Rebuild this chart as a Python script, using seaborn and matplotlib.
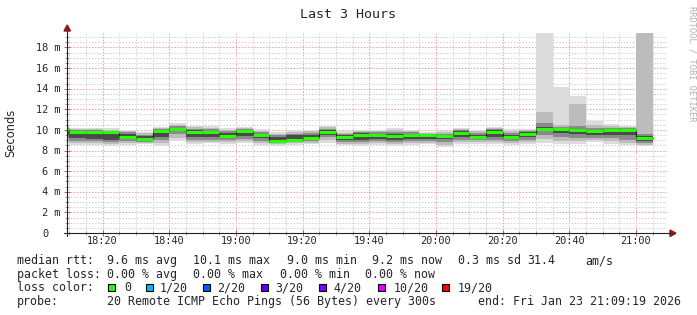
import matplotlib
matplotlib.use("Agg")
import matplotlib.pyplot as plt
from matplotlib.lines import Line2D
from matplotlib.patches import Rectangle, Polygon
from matplotlib.ticker import MultipleLocator, FixedLocator
import numpy as np
import pandas as pd
import seaborn as sns

sns.set_theme(style="white")
plt.rcParams["font.family"] = ["DejaVu Sans Mono", "DejaVu Sans"]
plt.rcParams["lines.scale_dashes"] = False

# ---------------- data ----------------
title = "Last 3 Hours"
y_label = "Seconds"
watermark = "RRDTOOL / TOBI OETIKER"
window_start = "18:09:19"
window_end = "21:09:19"
step_minutes = 5

interval_start = ["18:05", "18:10", "18:15", "18:20", "18:25", "18:30", "18:35", "18:40",
                  "18:45", "18:50", "18:55", "19:00", "19:05", "19:10", "19:15", "19:20",
                  "19:25", "19:30", "19:35", "19:40", "19:45", "19:50", "19:55", "20:00",
                  "20:05", "20:10", "20:15", "20:20", "20:25", "20:30", "20:35", "20:40",
                  "20:45", "20:50", "20:55", "21:00"]

median_ms = [10.05, 9.80, 9.80, 9.78, 9.32, 9.13, 9.85, 10.08, 9.80, 9.80, 9.45, 9.85,
             9.48, 8.96, 9.06, 9.20, 9.80, 9.35, 9.55, 9.51, 9.45, 9.50, 9.50, 9.45,
             9.74, 9.33, 9.82, 9.32, 9.64, 10.10, 10.05, 9.97, 9.87, 10.00, 9.97, 9.20]

# smoke bands (outer -> inner), lower and upper edges in ms
smoke_lo1 = [8.7, 8.5, 8.5, 8.4, 8.5, 8.6, 8.4, 8.9, 8.6, 8.7, 8.6, 8.7, 8.5, 8.45, 8.55, 8.6,
             8.7, 8.5, 8.4, 8.5, 8.45, 8.5, 8.6, 8.3, 8.6, 8.6, 8.65, 8.5, 8.6, 8.7, 8.6, 8.6,
             8.8, 8.65, 8.5, 8.4]
smoke_lo2 = [8.9, 8.7, 8.7, 8.6, 8.7, 8.7, 8.7, 9.2, 8.8, 8.85, 8.8, 8.9, 8.7, 8.6, 8.7, 8.75,
             9.0, 8.65, 8.6, 8.7, 8.65, 8.7, 8.75, 8.55, 8.8, 8.8, 8.85, 8.7, 8.8, 9.1, 8.9, 8.9,
             9.0, 8.9, 8.7, 8.55]
smoke_lo3 = [9.2, 8.9, 8.9, 8.8, 8.9, 8.85, 9.0, 9.6, 9.0, 9.0, 9.0, 9.1, 8.9, 8.75, 8.85, 8.9,
             9.3, 8.8, 8.8, 8.9, 8.85, 8.9, 8.9, 8.8, 9.0, 9.0, 9.05, 8.9, 9.0, 9.5, 9.3, 9.2,
             9.2, 9.2, 9.0, 8.75]
smoke_lo4 = [9.5, 9.2, 9.1, 9.0, 9.1, 9.0, 9.3, 9.85, 9.3, 9.3, 9.2, 9.4, 9.2, 8.85, 8.95, 9.05,
             9.5, 9.0, 9.0, 9.1, 9.05, 9.1, 9.1, 9.1, 9.3, 9.2, 9.3, 9.1, 9.3, 9.9, 9.7, 9.6,
             9.5, 9.5, 9.5, 8.95]
smoke_hi4 = [10.1, 9.9, 9.9, 9.8, 9.6, 9.4, 9.95, 10.2, 9.95, 9.9, 9.7, 9.95, 9.6, 9.3, 9.5, 9.55,
             9.95, 9.5, 9.7, 9.6, 9.65, 9.65, 9.55, 9.55, 9.85, 9.55, 9.95, 9.55, 9.75, 10.3, 10.15, 10.1,
             10.0, 10.1, 10.05, 9.4]
smoke_hi3 = [10.2, 10.0, 10.0, 9.9, 9.75, 9.55, 10.05, 10.35, 10.1, 10.05, 9.85, 10.05, 9.75, 9.5, 9.65, 9.7,
             10.1, 9.6, 9.8, 9.75, 9.8, 9.75, 9.65, 9.65, 9.95, 9.7, 10.05, 9.7, 9.85, 10.7, 10.3, 10.4,
             10.2, 10.2, 10.15, 9.6]
smoke_hi2 = [10.3, 10.1, 10.1, 10.0, 9.85, 9.7, 10.15, 10.5, 10.25, 10.2, 10.0, 10.15, 9.9, 9.6, 9.8, 9.85,
             10.25, 9.7, 9.9, 9.85, 9.95, 9.85, 9.7, 9.75, 10.05, 9.85, 10.15, 9.9, 9.95, 11.7, 10.45, 12.5,
             10.5, 10.35, 10.3, 19.5]
smoke_hi1 = [10.4, 10.2, 10.2, 10.15, 9.95, 9.8, 10.25, 10.7, 10.4, 10.35, 10.15, 10.3, 10.1, 9.75, 9.95, 9.95,
             10.4, 9.85, 10.0, 9.95, 10.15, 10.0, 9.8, 9.85, 10.15, 10.0, 10.25, 10.05, 10.05, 19.5, 14.2, 13.3,
             10.85, 10.55, 10.4, 19.5]

x_tick_times = ["18:20", "18:40", "19:00", "19:20", "19:40", "20:00", "20:20", "20:40", "21:00"]
y_tick_values = [0, 2, 4, 6, 8, 10, 12, 14, 16, 18]
y_tick_labels = ["0", "2 m", "4 m", "6 m", "8 m", "10 m", "12 m", "14 m", "16 m", "18 m"]
y_top = 19.4

rtt_label = "median rtt:"
rtt_stats = ["9.6 ms avg", "10.1 ms max", "9.0 ms min", "9.2 ms now", "0.3 ms sd", "31.4", "am/s"]
loss_label = "packet loss:"
loss_stats = ["0.00 % avg", "0.00 % max", "0.00 % min", "0.00 % now"]
color_label = "loss color:"
loss_levels = ["0", "1/20", "2/20", "3/20", "4/20", "10/20", "19/20"]
loss_colors = ["#26ff00", "#00b8ff", "#0059ff", "#5e00ff", "#7e00ff", "#dd00ff", "#ff0000"]
probe_label = "probe:"
probe_text = "20 Remote ICMP Echo Pings (56 Bytes) every 300s"
end_text = "end: Fri Jan 23 21:09:19 2026"


def to_min(s):
    parts = [int(p) for p in s.split(":")]
    while len(parts) < 3:
        parts.append(0)
    return (parts[0] - 18) * 60 + parts[1] + parts[2] / 60.0


starts = np.array([to_min(s) for s in interval_start])
med = np.array(median_ms)

# ---------------- figure ----------------
W, H = 697, 315
fig = plt.figure(figsize=(W / 100, H / 100), dpi=100)
fig.patch.set_facecolor("white")


def fx(x):
    return x / W


def fy(y):
    return 1 - y / H


PL, PR, PT, PB = 67, 667, 33, 233
ax = fig.add_axes([fx(PL), fy(PB), (PR - PL) / W, (PB - PT) / H])
ax.set_facecolor("white")
for sp in ax.spines.values():
    sp.set_visible(False)

ax.set_xlim(to_min(window_start), to_min(window_end))
ax.set_ylim(0, y_top)

# grid
ax.xaxis.set_major_locator(FixedLocator([to_min(t) for t in x_tick_times]))
ax.xaxis.set_minor_locator(MultipleLocator(step_minutes))
ax.yaxis.set_major_locator(FixedLocator(y_tick_values))
ax.yaxis.set_minor_locator(MultipleLocator(0.5))
ax.set_axisbelow(True)
ax.grid(which="minor", color="#d2d2d2", linestyle=(0, (1.1, 1.1)), linewidth=0.7)
ax.grid(which="major", color="#eaa0a0", linestyle=(0, (1.1, 1.1)), linewidth=0.7)
ax.tick_params(which="both", bottom=True, left=True, direction="inout",
               labelbottom=False, labelleft=False)
ax.tick_params(which="major", length=5, width=0.7, color="#b06060")
ax.tick_params(which="minor", length=3, width=0.7, color="#9a9a9a")

# smoke
bands = [(smoke_lo1, smoke_hi1, "#dcdcdc"),
         (smoke_lo2, smoke_hi2, "#bcbcbc"),
         (smoke_lo3, smoke_hi3, "#8a8a8a"),
         (smoke_lo4, smoke_hi4, "#4a4a4a")]
for lo, hi, c in bands:
    lo = np.array(lo)
    hi = np.array(hi)
    ax.bar(starts, hi - lo, bottom=lo, width=step_minutes, align="edge",
           color=c, linewidth=0, zorder=2)

# median: dark step line via seaborn, then green segments
df = pd.DataFrame({"t": np.append(starts, starts[-1] + step_minutes),
                   "median": np.append(med, med[-1])})
sns.lineplot(data=df, x="t", y="median", drawstyle="steps-post", color="#202020",
             linewidth=0.8, ax=ax, zorder=4)
ax.hlines(med, starts, starts + step_minutes, color=loss_colors[0], linewidth=2.2, zorder=5)
ax.set_xlabel("")
ax.set_ylabel("")

# tick labels
for t in x_tick_times:
    ax.annotate(t, xy=(to_min(t), 0), xycoords=("data", "axes fraction"),
                xytext=(0, -11.3 * 0.72), textcoords="offset points",
                ha="center", va="baseline", fontsize=7.4)
for v, lab in zip(y_tick_values, y_tick_labels):
    off = 7 if " " in lab else 18.5
    ax.annotate(lab, xy=(0, v), xycoords=("axes fraction", "data"),
                xytext=(-off * 0.72, -3.7 * 0.72), textcoords="offset points",
                ha="right", va="baseline", fontsize=7.4)

# axes lines with arrows
axc = "#222222"
arc = "#8b1a1a"
fig.add_artist(Line2D([fx(PL), fx(PL)], [fy(PB + 3), fy(31)], color=axc, linewidth=0.8))
fig.add_artist(Line2D([fx(PL - 3), fx(670)], [fy(PB), fy(PB)], color=axc, linewidth=0.8))
fig.add_artist(Polygon([[fx(PL - 3), fy(31)], [fx(PL + 3.5), fy(31)], [fx(PL + 0.25), fy(25)]],
                       closed=True, color=arc, transform=fig.transFigure))
fig.add_artist(Polygon([[fx(670), fy(PB - 3)], [fx(670), fy(PB + 3.5)], [fx(676), fy(PB + 0.25)]],
                       closed=True, color=arc, transform=fig.transFigure))

# titles
fig.text(fx(348.5), fy(14), title, ha="center", va="center", fontsize=9.6)
fig.text(fx(11), fy(133), y_label, rotation=90, ha="center", va="center",
         fontsize=8.3, family=["DejaVu Sans"])
fig.text(fx(692), fy(64), watermark, rotation=270, ha="center", va="center",
         fontsize=6.2, color="#b0b0b0")

# legend block
FS = 8.35
base = [264.3, 277.8, 291.3, 304.8]


def ftxt(x, yb, s):
    fig.text(fx(x), fy(yb), s, ha="left", va="baseline", fontsize=FS)


ftxt(17, base[0], rtt_label)
for s, x in zip(rtt_stats, [107.3, 193, 287, 372.3, 458.3, 527.7, 585.7]):
    ftxt(x, base[0], s)
ftxt(17, base[1], loss_label)
for s, x in zip(loss_stats, [107.3, 193.3, 280, 365]):
    ftxt(x, base[1], s)
ftxt(17, base[2], color_label)
box_x = [108.3, 145.7, 203.3, 261, 319, 377.7, 441.7]
lab_x = [124, 159.3, 217.3, 275, 333, 393.3, 457.3]
for lab, c, bx, lx in zip(loss_levels, loss_colors, box_x, lab_x):
    fig.add_artist(Rectangle((fx(bx), fy(base[2])), 7 / W, 7 / H, transform=fig.transFigure,
                             facecolor=c, edgecolor="black", linewidth=0.8))
    ftxt(lx, base[2], lab)
ftxt(17, base[3], probe_label)
ftxt(107.3, base[3], probe_text)
ftxt(478.3, base[3], end_text)

fig.savefig("out.png", dpi=100, facecolor="white")
